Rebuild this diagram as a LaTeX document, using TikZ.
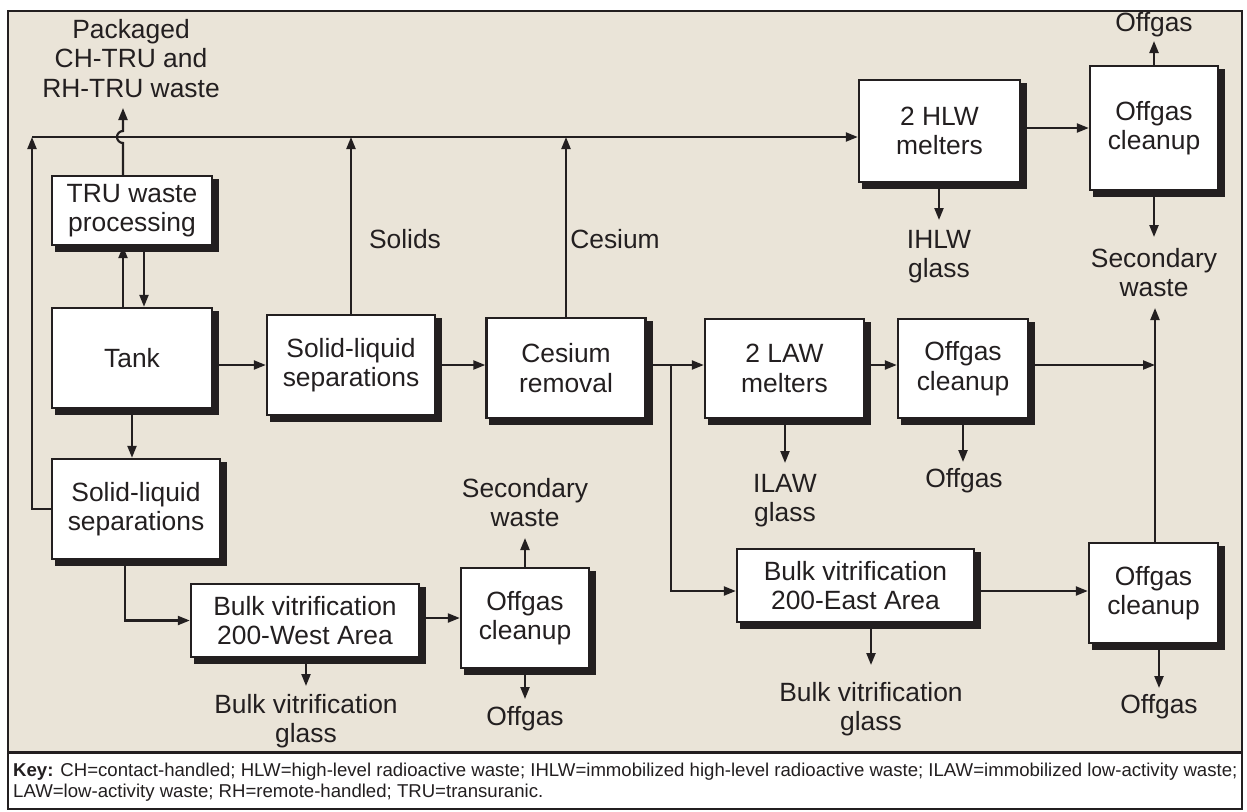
\documentclass[tikz,border=0pt]{standalone}
\usepackage{fontspec}
\setmainfont{Liberation Sans}
\usetikzlibrary{arrows.meta,backgrounds}
\definecolor{paper}{RGB}{234,228,216}
\definecolor{ink}{RGB}{35,31,32}
\newcommand\stagefont{\fontsize{26.4}{29.5}\selectfont}
\newcommand\keyfont{\fontsize{18.6}{21}\selectfont}

\begin{document}
\begin{tikzpicture}[x=1pt,y=-1pt,
  every node/.style={text=ink},
  stage/.style={draw=ink, line width=2.4pt, fill=white, align=center,
    inner sep=0pt, font=\stagefont},
  boxshadow/.style={draw=ink, fill=ink, line width=2.4pt},
  lbl/.style={align=center, inner sep=0pt, font=\stagefont},
  flow/.style={draw=ink, line width=2.2pt, -{Triangle[length=12pt,width=9pt]}}
]
\useasboundingbox (0,0) rectangle (1247,811);

% frame, shaded flowsheet panel and key panel
\begin{scope}[on background layer]
  \fill[white] (0,0) rectangle (1247,811);
  \fill[paper] (8,11) rectangle (1242,752);
\end{scope}
\draw[ink, line width=2pt] (8,11) rectangle (1242,809);
\draw[ink, line width=3pt] (8,752) -- (1242,752);

% process stages
\node[stage, minimum width=160pt, minimum height=69pt]  (tru)  at (132,210.5) {TRU waste\\processing};
\node[stage, minimum width=160pt, minimum height=100pt] (tank) at (132,358)   {Tank};
\node[stage, minimum width=168pt, minimum height=100pt] (slsL) at (136,509)   {Solid-liquid\\separations};
\node[stage, minimum width=168pt, minimum height=100pt] (slsM) at (351,365)   {Solid-liquid\\separations};
\node[stage, minimum width=159pt, minimum height=100pt] (cs)   at (566,368)   {Cesium\\removal};
\node[stage, minimum width=159pt, minimum height=99pt]  (law)  at (784.5,368.5) {2 LAW\\melters};
\node[stage, minimum width=130pt, minimum height=99pt]  (offM) at (963,368.5) {Offgas\\cleanup};
\node[stage, minimum width=161pt, minimum height=102pt] (hlw)  at (939.5,131) {2 HLW\\melters};
\node[stage, minimum width=128pt, minimum height=124pt] (offT) at (1154,128)  {Offgas\\cleanup};
\node[stage, minimum width=228pt, minimum height=73pt]  (bkW)  at (305,620.5) {Bulk vitrification\\200-West Area};
\node[stage, minimum width=128pt, minimum height=100pt] (offW) at (525,618)   {Offgas\\cleanup};
\node[stage, minimum width=237pt, minimum height=73pt]  (bkE)  at (855.5,585.5) {Bulk vitrification\\200-East Area};
\node[stage, minimum width=129pt, minimum height=100pt] (offE) at (1153.5,593) {Offgas\\cleanup};

% solid drop shadows behind every stage
\begin{scope}[on background layer]
  \foreach \n in {tru,tank,slsL,slsM,cs,law,offM,hlw,offT,bkW,offW,bkE,offE}
    \filldraw[boxshadow] ([shift={(5pt,-5pt)}]\n.north west) rectangle ([shift={(5pt,-5pt)}]\n.south east);
\end{scope}

% product and by-product labels
\node[lbl, anchor=south] (pkg)   at (131,97.5) {Packaged\\CH-TRU and\\RH-TRU waste};
\node[lbl, anchor=base]  (ogT)   at (1154,31)  {Offgas};
\node[lbl, anchor=north] (secR)  at (1154,248) {Secondary\\waste};
\node[lbl, anchor=north] (ihlw)  at (939,230)  {IHLW\\glass};
\node[lbl, anchor=base]  (sol)   at (405,248)  {Solids};
\node[lbl, anchor=base]  (csl)   at (615,248)  {Cesium};
\node[lbl, anchor=north] (ilaw)  at (785,474)  {ILAW\\glass};
\node[lbl, anchor=base]  (ogM)   at (964,487)  {Offgas};
\node[lbl, anchor=south] (secW)  at (525,527)  {Secondary\\waste};
\node[lbl, anchor=base]  (ogW)   at (525,725)  {Offgas};
\node[lbl, anchor=north] (bvgW)  at (306,694)  {Bulk vitrification\\glass};
\node[lbl, anchor=north] (bvgE)  at (871,682)  {Bulk vitrification\\glass};
\node[lbl, anchor=base]  (ogE)   at (1159,713) {Offgas};

% arrow tips next to the labels
\coordinate (pkgTip)  at (123,108);
\coordinate (ogTTip)  at (1154,41);
\coordinate (secRTip) at (1154,237);
\coordinate (ihlwTip) at (939,220);
\coordinate (ilawTip) at (785,463);
\coordinate (ogMTip)  at (963,462);
\coordinate (secWTip) at (525,538);
\coordinate (ogWTip)  at (525,699);
\coordinate (bvgWTip) at (306,686);
\coordinate (bvgETip) at (871,665);
\coordinate (ogETip)  at (1159,688);
\coordinate (secETip) at (1155,308);

% routing helpers
\coordinate (colL)  at (32,137);   % left riser into the HLW header
\coordinate (flow)  at (0,365);    % main liquid stream
\coordinate (br)    at (671,365);  % split towards bulk vitrification
\coordinate (eflow) at (0,591);    % east bulk vitrification stream

% HLW header along the top
\draw[flow] (slsL.west) -| (colL);
\draw[flow] (colL) -- (colL -| hlw.west);
\draw[flow] (slsM.north) -- (slsM.north |- colL);
\draw[flow] (cs.north) -- (cs.north |- colL);

% tank and TRU processing
\draw[flow] ([xshift=-9pt]tank.north) -- ([xshift=-9pt]tru.south);
\draw[flow] ([xshift=12pt]tru.south) -- ([xshift=12pt]tank.north);
\draw[flow] ([xshift=-9pt]tru.north) -- (123,143)
  arc[start angle=270, end angle=90, radius=6pt] -- (pkgTip);

% main liquid stream
\draw[flow] (slsM.west -| tank.east) -- (slsM.west |- flow);
\draw[flow] (slsM.east |- flow) -- (cs.west |- flow);
\draw[flow] (cs.east |- flow) -- (law.west |- flow);
\draw[flow] (law.east |- flow) -- (offM.west |- flow);
\draw[flow] (offM.east |- flow) -- (secETip |- flow);
\draw[flow] (offE.north -| secETip) -- (secETip);
\draw[flow] (law.south -| ilawTip) -- (ilawTip);
\draw[flow] (offM.south -| ogMTip) -- (ogMTip);

% HLW train
\draw[flow] (hlw.east |- offT.west) -- (offT.west);
\draw[flow] (hlw.south -| ihlwTip) -- (ihlwTip);
\draw[flow] (offT.north) -- (ogTTip);
\draw[flow] (offT.south) -- (secRTip);

% west bulk vitrification
\draw[flow] (tank.south) -- (tank.south |- slsL.north);
\draw[flow] ([xshift=-11pt]slsL.south) |- (bkW.west);
\draw[flow] (bkW.east |- offW.west) -- (offW.west);
\draw[flow] (bkW.south -| bvgWTip) -- (bvgWTip);
\draw[flow] (offW.north) -- (secWTip);
\draw[flow] (offW.south) -- (ogWTip);

% east bulk vitrification
\draw[flow] (br) |- (bkE.west |- eflow);
\draw[flow] (bkE.east |- eflow) -- (offE.west |- eflow);
\draw[flow] (bkE.south -| bvgETip) -- (bvgETip);
\draw[flow] (offE.south -| ogETip) -- (ogETip);

% key
\node[anchor=north west, inner sep=0pt, font=\keyfont, align=left] (key) at (13,762.5)
  {\textbf{Key:} CH=contact-handled; HLW=high-level radioactive waste; IHLW=immobilized high-level radioactive waste; ILAW=immobilized low-activity waste;\\
   LAW=low-activity waste; RH=remote-handled; TRU=transuranic.};
\end{tikzpicture}
\end{document}
